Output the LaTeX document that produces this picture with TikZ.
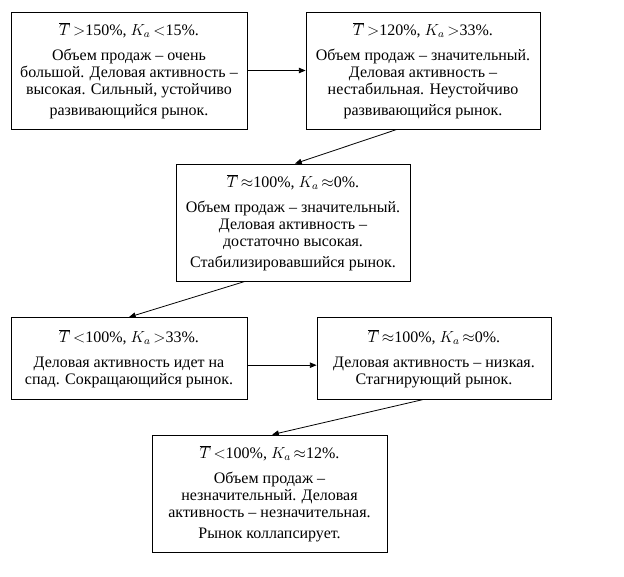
\documentclass[tikz,border=0pt]{standalone}
\usepackage{fontspec}
\setmainfont{Liberation Serif}
\usetikzlibrary{arrows.meta,positioning}
\tikzset{
    stage/.style={draw, line width=0.6pt, align=center, inner sep=2pt, font=\fontsize{12}{12.75}\selectfont},
    flow/.style={-{Triangle[length=5pt,width=4pt]}, line width=0.6pt}
}

\begin{document}
\begin{tikzpicture}[x=0.75pt, y=-0.75pt]
    \useasboundingbox (0,0) rectangle (624,577);
    \node[stage, minimum width=177pt, minimum height=87.75pt] (grow) at (129,70.5)
        {$\overline{T}$\,$>$150\%, $K_a$\,$<$15\%.\\[6pt]
         Объем продаж -- очень\\ большой. Деловая активность --\\ высокая. Сильный, устойчиво\\[3pt] развивающийся рынок.};
    \node[stage, minimum width=175.5pt, minimum height=87.75pt] (unstable) at (423,70.5)
        {$\overline{T}$\,$>$120\%, $K_a$\,$>$33\%.\\[6pt]
         Объем продаж -- значительный.\\ Деловая активность --\\ нестабильная. Неустойчиво\\[3pt] развивающийся рынок.};
    \node[stage, minimum width=175.5pt, minimum height=87.75pt] (stable) at (293,222.5)
        {$\overline{T}$\,$\approx$100\%, $K_a$\,$\approx$0\%.\\[6pt]
         Объем продаж -- значительный.\\ Деловая активность --\\ достаточно высокая.\\[3pt] Стабилизировавшийся рынок.};
    \node[stage, minimum width=177pt, minimum height=61.5pt] (decline) at (129,358.5)
        {$\overline{T}$\,$<$100\%, $K_a$\,$>$33\%.\\[6pt]
         Деловая активность идет на\\ спад. Сокращающийся рынок.};
    \node[stage, minimum width=175.5pt, minimum height=61pt] (stagnate) at (434,358.5)
        {$\overline{T}$\,$\approx$100\%, $K_a$\,$\approx$0\%.\\[6pt]
         Деловая активность -- низкая.\\ Стагнирующий рынок.};
    \node[stage, minimum width=176.25pt, minimum height=87.75pt] (collapse) at (269.5,493.5)
        {$\overline{T}$\,$<$100\%, $K_a$\,$\approx$12\%.\\[6pt]
         Объем продаж --\\ незначительный. Деловая\\ активность -- незначительная.\\[3pt] Рынок коллапсирует.};
    \draw[flow] (grow.east) -- (unstable.west);
    \draw[flow] ([xshift=-19.5pt]unstable.south) -- ([xshift=1.5pt]stable.north);
    \draw[flow] ([xshift=-36pt]stable.south) -- (decline.north);
    \draw[flow] ([yshift=-5pt]decline.east) -- ([yshift=-5pt]stagnate.west);
    \draw[flow] ([xshift=-8.25pt]stagnate.south) -- ([xshift=2pt]collapse.north);
\end{tikzpicture}
\end{document}
